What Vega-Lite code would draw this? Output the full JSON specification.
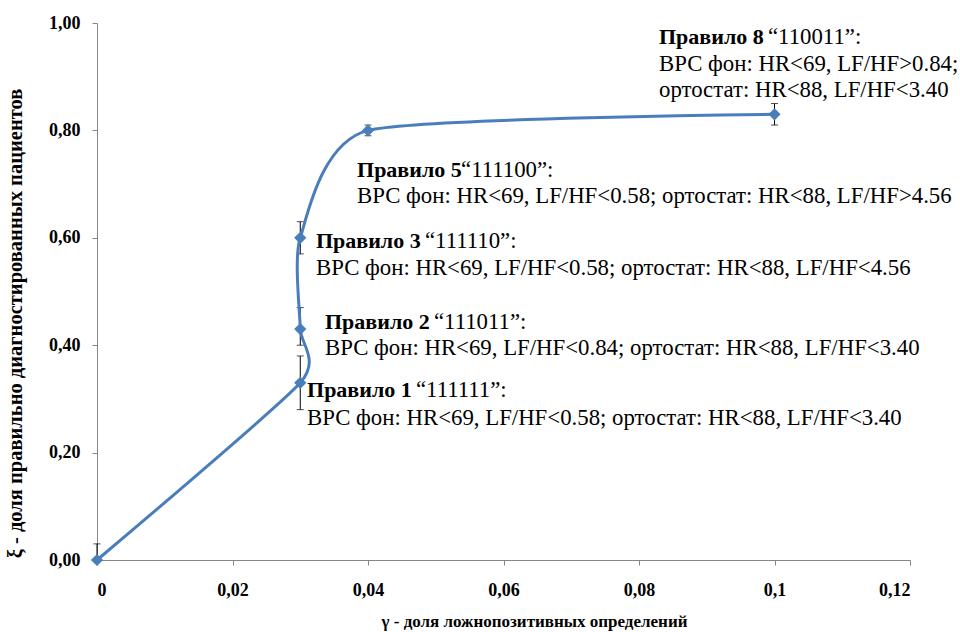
{
  "$schema": "https://vega.github.io/schema/vega-lite/v6.json",
  "autosize": {"type": "none"},
  "width": 813,
  "height": 537,
  "padding": {"left": 97, "top": 23, "right": 50, "bottom": 72},
  "background": "white",
  "config": {
    "view": {"stroke": null},
    "axis": {
      "grid": false,
      "domainColor": "#868686",
      "tickColor": "#868686",
      "tickSize": 5,
      "labelFont": "Liberation Serif",
      "labelFontWeight": "bold",
      "labelFontSize": 18,
      "labelColor": "#000000",
      "titleFont": "Liberation Serif",
      "titleFontWeight": "bold",
      "titleColor": "#000000"
    },
    "text": {"font": "Liberation Serif", "fontSize": 22.8, "color": "#000000", "align": "left", "baseline": "middle"}
  },
  "datasets": {
    "rules": [
      {"i": 0, "fp": 0.0, "tp": 0.0, "lo": 0.0, "hi": 0.03},
      {"i": 1, "fp": 0.03, "tp": 0.33, "lo": 0.28, "hi": 0.38},
      {"i": 2, "fp": 0.03, "tp": 0.43, "lo": 0.4, "hi": 0.47},
      {"i": 3, "fp": 0.03, "tp": 0.6, "lo": 0.57, "hi": 0.63},
      {"i": 4, "fp": 0.04, "tp": 0.8, "lo": 0.79, "hi": 0.81},
      {"i": 5, "fp": 0.1, "tp": 0.83, "lo": 0.81, "hi": 0.85}
    ],
    "notes": [
      {"part": "head", "fp": 0.08295, "tp": 0.9739, "text": "Правило 8"},
      {"part": "tag", "fp": 0.09904, "tp": 0.9739, "text": "“110011”:"},
      {"part": "body", "fp": 0.08295, "tp": 0.9236, "text": "ВРС фон: HR<69, LF/HF>0.84;"},
      {"part": "body", "fp": 0.08295, "tp": 0.8752, "text": "ортостат: HR<88, LF/HF<3.40"},
      {"part": "head", "fp": 0.03838, "tp": 0.7263, "text": "Правило 5"},
      {"part": "tag", "fp": 0.05373, "tp": 0.7263, "text": "“111100”:"},
      {"part": "body", "fp": 0.03838, "tp": 0.6778, "text": "ВРС фон: HR<69, LF/HF<0.58; ортостат: HR<88, LF/HF>4.56"},
      {"part": "head", "fp": 0.03232, "tp": 0.594, "text": "Правило 3"},
      {"part": "tag", "fp": 0.04841, "tp": 0.594, "text": "“111110”:"},
      {"part": "body", "fp": 0.03232, "tp": 0.5438, "text": "ВРС фон: HR<69, LF/HF<0.58; ортостат: HR<88, LF/HF<4.56"},
      {"part": "head", "fp": 0.03365, "tp": 0.4432, "text": "Правило 2"},
      {"part": "tag", "fp": 0.04974, "tp": 0.4432, "text": "“111011”:"},
      {"part": "body", "fp": 0.03365, "tp": 0.3948, "text": "ВРС фон: HR<69, LF/HF<0.84;  ортостат: HR<88, LF/HF<3.40"},
      {"part": "head", "fp": 0.031, "tp": 0.3166, "text": "Правило 1"},
      {"part": "tag", "fp": 0.04708, "tp": 0.3166, "text": "“111111”:"},
      {"part": "body", "fp": 0.031, "tp": 0.2644, "text": "ВРС фон: HR<69, LF/HF<0.58; ортостат: HR<88, LF/HF<3.40"}
    ]
  },
  "encoding": {
    "x": {
      "field": "fp", "type": "quantitative",
      "scale": {"domain": [0, 0.12], "nice": false, "zero": false},
      "axis": {
        "title": "γ - доля ложнопозитивных определений",
        "titleFontSize": 17,
        "titleX": 437,
        "values": [0, 0.02, 0.04, 0.06, 0.08, 0.1, 0.12],
        "labelExpr": "replace(format(datum.value, '~g'), '.', ',')",
        "labelPadding": 16,
        "titlePadding": 14
      }
    },
    "y": {
      "field": "tp", "type": "quantitative",
      "scale": {"domain": [0, 1], "nice": false},
      "axis": {
        "title": "ξ - доля правильно диагностированных пациентов",
        "titleFontSize": 20.5,
        "titleX": -82,
        "titleY": 300,
        "titleBaseline": "middle",
        "values": [0, 0.2, 0.4, 0.6, 0.8, 1],
        "labelExpr": "replace(format(datum.value, '.2f'), '.', ',')",
        "labelPadding": 12
      }
    }
  },
  "layer": [
    {
      "data": {"name": "rules"},
      "mark": {"type": "rule", "color": "#000000", "strokeWidth": 1},
      "encoding": {"y": {"field": "lo", "type": "quantitative"}, "y2": {"field": "hi"}}
    },
    {
      "data": {"name": "rules"},
      "mark": {"type": "tick", "orient": "horizontal", "color": "#000000", "size": 7, "thickness": 1},
      "encoding": {"y": {"field": "lo", "type": "quantitative"}}
    },
    {
      "data": {"name": "rules"},
      "mark": {"type": "tick", "orient": "horizontal", "color": "#000000", "size": 7, "thickness": 1},
      "encoding": {"y": {"field": "hi", "type": "quantitative"}}
    },
    {
      "data": {"name": "rules"},
      "mark": {"type": "line", "interpolate": "cardinal", "tension": 0.4, "color": "#4A7EBB", "strokeWidth": 3},
      "encoding": {"order": {"field": "i", "type": "quantitative"}}
    },
    {
      "data": {"name": "rules"},
      "mark": {"type": "point", "shape": "diamond", "filled": true, "opacity": 1, "color": "#4A7EBB", "size": 150},
      "encoding": {}
    },
    {
      "data": {"name": "notes"},
      "transform": [{"filter": "datum.part === 'head'"}],
      "mark": {"type": "text", "fontWeight": "bold", "fontSize": 22},
      "encoding": {"text": {"field": "text"}}
    },
    {
      "data": {"name": "notes"},
      "transform": [{"filter": "datum.part !== 'head'"}],
      "mark": {"type": "text"},
      "encoding": {"text": {"field": "text"}}
    }
  ]
}
